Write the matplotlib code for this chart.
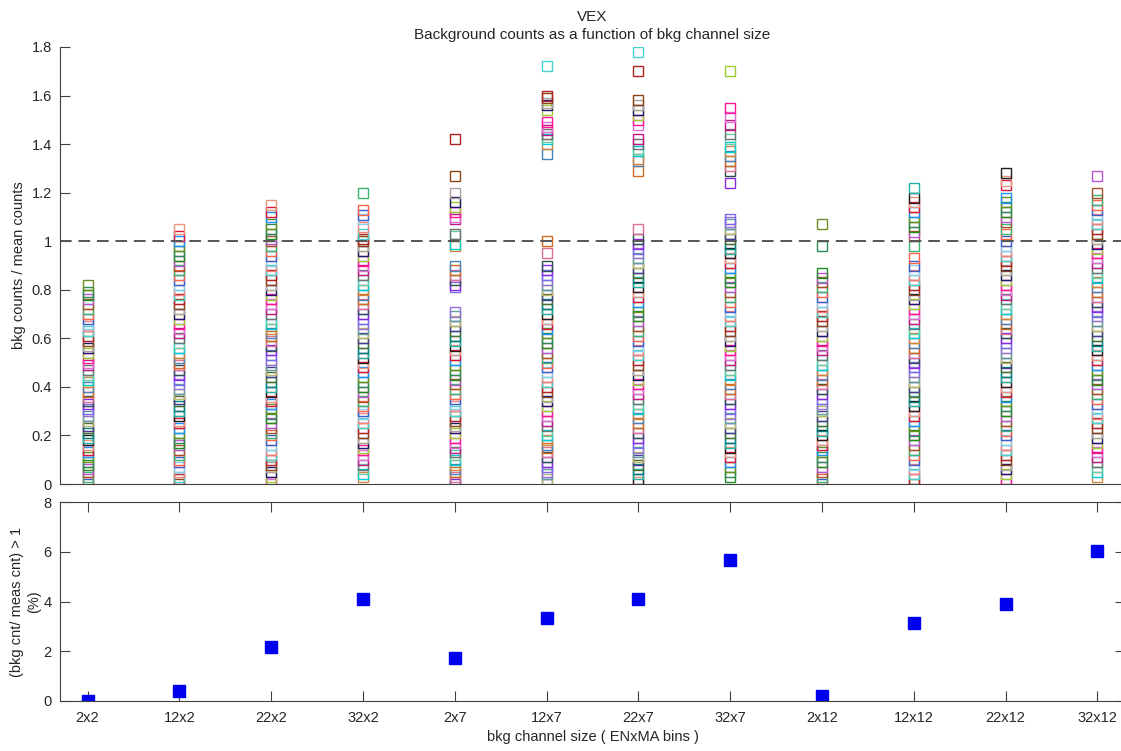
import numpy as np
import matplotlib
matplotlib.use('Agg')
import matplotlib.pyplot as plt

plt.rcParams['font.family'] = ['Liberation Sans', 'DejaVu Sans']

# categories (bkg channel size, ENxMA bins)
categories = ['2x2', '12x2', '22x2', '32x2', '2x7', '12x7', '22x7', '32x7',
              '2x12', '12x12', '22x12', '32x12']

# bkg counts / mean counts, one list per channel size
ratio_2x2 = [0.0, 0.01, 0.03, 0.05, 0.06, 0.08, 0.09, 0.11, 0.13, 0.14, 0.16, 0.18,
             0.19, 0.21, 0.23, 0.24, 0.26, 0.28, 0.3, 0.31, 0.33, 0.34, 0.36, 0.38,
             0.4, 0.42, 0.43, 0.45, 0.47, 0.49, 0.5, 0.52, 0.54, 0.56, 0.57, 0.59,
             0.61, 0.63, 0.65, 0.66, 0.68, 0.7, 0.72, 0.74, 0.76, 0.78, 0.79, 0.82]
ratio_12x2 = [0.0, 0.02, 0.03, 0.05, 0.07, 0.09, 0.1, 0.12, 0.14, 0.16, 0.17, 0.19,
              0.21, 0.23, 0.25, 0.26, 0.28, 0.3, 0.32, 0.34, 0.35, 0.37, 0.39, 0.41,
              0.43, 0.45, 0.47, 0.49, 0.5, 0.52, 0.54, 0.56, 0.58, 0.6, 0.62, 0.64,
              0.66, 0.68, 0.7, 0.72, 0.74, 0.76, 0.78, 0.8, 0.82, 0.84, 0.86, 0.88,
              0.9, 0.92, 0.94, 0.96, 0.98, 1.0, 1.02, 1.05]
ratio_22x2 = [0.0, 0.01, 0.03, 0.05, 0.07, 0.08, 0.1, 0.12, 0.14, 0.16, 0.18, 0.2,
              0.21, 0.23, 0.25, 0.27, 0.29, 0.31, 0.33, 0.34, 0.36, 0.38, 0.4, 0.42,
              0.44, 0.46, 0.47, 0.49, 0.51, 0.53, 0.55, 0.57, 0.59, 0.61, 0.62, 0.64,
              0.66, 0.68, 0.7, 0.72, 0.74, 0.76, 0.78, 0.8, 0.82, 0.84, 0.86, 0.88,
              0.9, 0.92, 0.94, 0.96, 0.98, 1.0, 1.01, 1.03, 1.05, 1.07, 1.1, 1.12, 1.15]
ratio_32x2 = [0.03, 0.04, 0.06, 0.08, 0.1, 0.12, 0.14, 0.15, 0.17, 0.19, 0.21, 0.23,
              0.25, 0.27, 0.29, 0.3, 0.32, 0.34, 0.36, 0.38, 0.4, 0.42, 0.44, 0.46,
              0.48, 0.5, 0.52, 0.54, 0.56, 0.58, 0.6, 0.62, 0.64, 0.66, 0.68, 0.7,
              0.72, 0.74, 0.76, 0.78, 0.8, 0.82, 0.84, 0.86, 0.88, 0.9, 0.92, 0.94,
              0.96, 0.98, 1.0, 1.01, 1.03, 1.06, 1.09, 1.11, 1.13, 1.2]
ratio_2x7 = [0.0, 0.01, 0.03, 0.05, 0.06, 0.08, 0.1, 0.12, 0.13, 0.15, 0.17, 0.19,
             0.21, 0.23, 0.24, 0.26, 0.28, 0.3, 0.32, 0.33, 0.35, 0.37, 0.39, 0.41,
             0.43, 0.45, 0.47, 0.49, 0.51, 0.53, 0.55, 0.57, 0.59, 0.61, 0.63, 0.65,
             0.67, 0.69, 0.71, 0.81, 0.82, 0.84, 0.86, 0.88, 0.9, 0.98, 0.99, 1.02,
             1.03, 1.09, 1.1, 1.12, 1.14, 1.16, 1.2, 1.27, 1.42]
ratio_12x7 = [0.0, 0.02, 0.04, 0.05, 0.07, 0.09, 0.11, 0.13, 0.15, 0.16, 0.18, 0.2,
              0.22, 0.24, 0.26, 0.28, 0.3, 0.32, 0.34, 0.36, 0.38, 0.4, 0.42, 0.44,
              0.46, 0.48, 0.5, 0.52, 0.54, 0.56, 0.58, 0.6, 0.62, 0.64, 0.66, 0.68,
              0.7, 0.72, 0.74, 0.76, 0.78, 0.8, 0.82, 0.84, 0.86, 0.88, 0.9, 0.95,
              1.0, 1.36, 1.4, 1.42, 1.43, 1.44, 1.46, 1.47, 1.49, 1.54, 1.56, 1.57,
              1.59, 1.6, 1.72]
ratio_22x7 = [0.01, 0.02, 0.04, 0.06, 0.08, 0.1, 0.11, 0.13, 0.15, 0.17, 0.19, 0.21,
              0.23, 0.25, 0.27, 0.29, 0.31, 0.33, 0.35, 0.37, 0.39, 0.41, 0.43, 0.45,
              0.47, 0.49, 0.51, 0.53, 0.55, 0.57, 0.59, 0.61, 0.63, 0.65, 0.67, 0.69,
              0.71, 0.73, 0.75, 0.77, 0.79, 0.81, 0.83, 0.85, 0.87, 0.89, 0.91, 0.93,
              0.95, 0.97, 0.99, 1.01, 1.05, 1.29, 1.33, 1.34, 1.37, 1.38, 1.4, 1.42,
              1.48, 1.5, 1.52, 1.54, 1.56, 1.58, 1.7, 1.78]
ratio_32x7 = [0.03, 0.05, 0.07, 0.09, 0.11, 0.13, 0.15, 0.17, 0.19, 0.21, 0.23, 0.25,
              0.27, 0.29, 0.31, 0.33, 0.35, 0.37, 0.39, 0.41, 0.43, 0.45, 0.47, 0.49,
              0.51, 0.53, 0.55, 0.57, 0.59, 0.61, 0.63, 0.65, 0.67, 0.69, 0.71, 0.73,
              0.75, 0.77, 0.79, 0.81, 0.83, 0.85, 0.87, 0.89, 0.91, 0.93, 0.95, 0.97,
              0.99, 1.01, 1.03, 1.05, 1.07, 1.08, 1.09, 1.24, 1.29, 1.31, 1.33, 1.35,
              1.37, 1.39, 1.42, 1.44, 1.48, 1.51, 1.55, 1.7]
ratio_2x12 = [0.0, 0.02, 0.03, 0.05, 0.07, 0.09, 0.11, 0.13, 0.14, 0.16, 0.18, 0.2,
              0.22, 0.24, 0.26, 0.28, 0.3, 0.31, 0.33, 0.35, 0.37, 0.39, 0.41, 0.43,
              0.45, 0.47, 0.49, 0.51, 0.53, 0.55, 0.57, 0.59, 0.61, 0.63, 0.65, 0.67,
              0.69, 0.71, 0.73, 0.75, 0.77, 0.79, 0.81, 0.83, 0.85, 0.87, 0.98, 1.07]
ratio_12x12 = [0.0, 0.02, 0.04, 0.06, 0.08, 0.1, 0.12, 0.14, 0.16, 0.18, 0.2, 0.22,
               0.24, 0.26, 0.28, 0.3, 0.32, 0.34, 0.36, 0.38, 0.4, 0.42, 0.44, 0.46,
               0.48, 0.5, 0.52, 0.54, 0.56, 0.58, 0.6, 0.62, 0.64, 0.66, 0.68, 0.7,
               0.72, 0.74, 0.76, 0.78, 0.8, 0.82, 0.84, 0.86, 0.88, 0.9, 0.93, 0.98,
               1.02, 1.04, 1.06, 1.08, 1.1, 1.12, 1.14, 1.16, 1.18, 1.22]
ratio_22x12 = [0.0, 0.02, 0.04, 0.06, 0.08, 0.1, 0.12, 0.14, 0.16, 0.18, 0.2, 0.22,
               0.24, 0.26, 0.28, 0.3, 0.32, 0.34, 0.36, 0.38, 0.4, 0.42, 0.44, 0.46,
               0.48, 0.5, 0.52, 0.54, 0.56, 0.58, 0.6, 0.62, 0.64, 0.66, 0.68, 0.7,
               0.72, 0.74, 0.76, 0.78, 0.8, 0.82, 0.84, 0.86, 0.88, 0.9, 0.92, 0.94,
               0.96, 0.98, 1.0, 1.03, 1.05, 1.08, 1.1, 1.12, 1.14, 1.16, 1.18, 1.23,
               1.25, 1.28]
ratio_32x12 = [0.03, 0.05, 0.07, 0.09, 0.11, 0.13, 0.15, 0.17, 0.19, 0.21, 0.23, 0.25,
               0.27, 0.29, 0.31, 0.33, 0.35, 0.37, 0.39, 0.41, 0.43, 0.45, 0.47, 0.49,
               0.51, 0.53, 0.55, 0.57, 0.59, 0.61, 0.63, 0.65, 0.67, 0.69, 0.71, 0.73,
               0.75, 0.77, 0.79, 0.81, 0.83, 0.85, 0.87, 0.89, 0.91, 0.93, 0.95, 0.97,
               0.99, 1.01, 1.03, 1.05, 1.07, 1.09, 1.11, 1.13, 1.15, 1.17, 1.2, 1.27]

ratios = [ratio_2x2, ratio_12x2, ratio_22x2, ratio_32x2, ratio_2x7, ratio_12x7,
          ratio_22x7, ratio_32x7, ratio_2x12, ratio_12x12, ratio_22x12, ratio_32x12]

# percentage of (bkg cnt / meas cnt) > 1
pct_above = [0.0, 0.4, 2.18, 4.1, 1.74, 3.33, 4.1, 5.66, 0.2, 3.12, 3.88, 6.03]

# marker edge colours, cycled
palette = ['#3a5fcd', '#d2691e', '#2e8b57', '#c71585', '#20b2aa', '#8b4513',
           '#9370db', '#ff6347', '#4682b4', '#6b8e23', '#da70d6', '#008080',
           '#b22222', '#7b68ee', '#3cb371', '#cd853f', '#1e90ff', '#ff1493',
           '#556b2f', '#48d1cc', '#8a2be2', '#a0522d', '#00ced1', '#dc143c',
           '#9acd32', '#483d8b', '#f08080', '#2f4f4f', '#ba55d3', '#66cdaa',
           '#e9967a', '#191970', '#bdb76b', '#87ceeb', '#db7093', '#228b22',
           '#707070', '#202020', '#b0a0a0', '#5f9ea0']

txt = '#262626'
axcol = '#404040'
W, H = 1121, 751

fig = plt.figure(figsize=(W / 100, H / 100), dpi=100)

# ---- top panel ----
ax1 = fig.add_axes([60 / W, 1 - 484 / H, 1065 / W, 437 / H])
for i, vals in enumerate(ratios):
    for j, v in enumerate(vals):
        c = palette[(j * 7 + i * 5) % len(palette)]
        ax1.plot(i, v, 's', ms=7.6, mfc='none', mec=c, mew=1.0)
ax1.axhline(1, color='#555555', lw=1.4, ls=(0, (6, 3.5)))
ax1.set_xlim(-0.3, 11.3)
ax1.set_ylim(0, 1.8)
ax1.set_yticks(np.arange(0, 1.81, 0.2))
ax1.set_yticklabels(['0', '0.2', '0.4', '0.6', '0.8', '1', '1.2', '1.4', '1.6', '1.8'])
ax1.set_xticks([])
ax1.spines['top'].set_visible(False)
ax1.spines['right'].set_visible(False)
for s in ['left', 'bottom']:
    ax1.spines[s].set_color(axcol)
ax1.tick_params(axis='y', direction='in', length=7, color=axcol, labelcolor=txt,
                labelsize=10.5, pad=6)
ax1.set_ylabel('bkg counts / mean counts', fontsize=10.5, color=txt, labelpad=4)
ax1.set_title('VEX\nBackground counts as a function of bkg channel size',
              fontsize=11, color=txt, pad=6, linespacing=1.3)

# ---- bottom panel ----
ax2 = fig.add_axes([60 / W, 1 - 701 / H, 1065 / W, 199 / H])
ax2.plot(range(len(categories)), pct_above, 's', ms=8, color='#0000f0', mec='#0000f0')
ax2.set_xlim(-0.3, 11.3)
ax2.set_ylim(0, 8)
ax2.set_yticks([0, 2, 4, 6, 8])
ax2.set_xticks(range(len(categories)))
ax2.set_xticklabels(categories)
for s in ax2.spines.values():
    s.set_color(axcol)
ax2.tick_params(direction='in', length=7, color=axcol, labelcolor=txt,
                labelsize=10.5, top=True, right=True)
ax2.tick_params(axis='x', pad=7)
ax2.tick_params(axis='y', pad=6)
ax2.set_ylabel('(bkg cnt/ meas cnt) > 1\n(%)', fontsize=10.5, color=txt, labelpad=2)
ax2.set_xlabel('bkg channel size ( ENxMA bins )', fontsize=10.5, color=txt, labelpad=4)

fig.savefig('out.png', dpi=100)
